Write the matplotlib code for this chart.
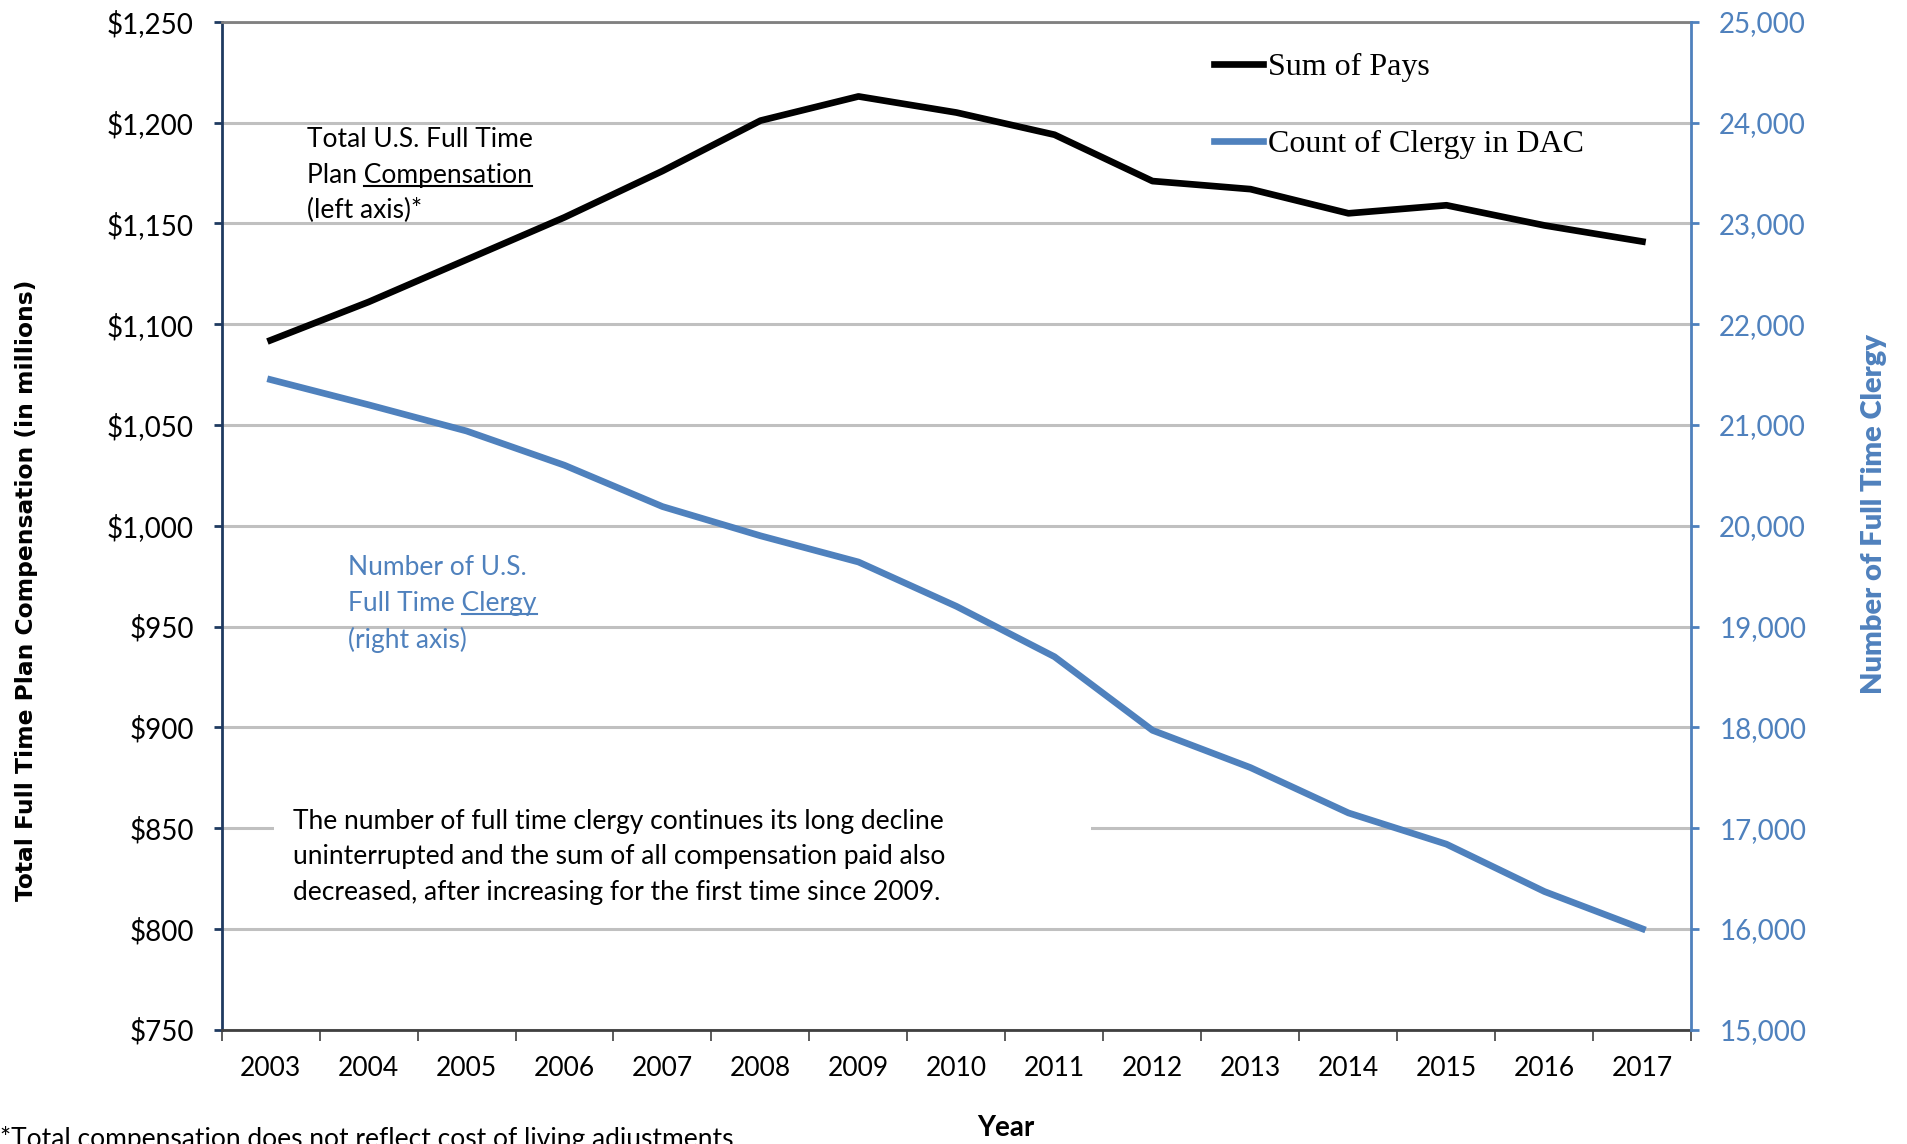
import matplotlib
matplotlib.use('Agg')
import matplotlib.pyplot as plt
import matplotlib.patches as mpatches
from matplotlib.lines import Line2D
from matplotlib.ticker import FuncFormatter

# data
years = list(range(2003, 2018))
sum_of_pays = [1092, 1111, 1132, 1153, 1176, 1201, 1213, 1205, 1194, 1171, 1167, 1155, 1159, 1149, 1141]
clergy_count = [21450, 21200, 20940, 20600, 20190, 19900, 19640, 19200, 18700, 17970, 17600, 17150, 16840, 16370, 16000]
left_ticks = list(range(750, 1251, 50))
right_ticks = list(range(15000, 25001, 1000))

blue = '#4F81BD'
navy = '#1F3A60'
plt.rcParams['font.family'] = ['Lato', 'DejaVu Sans']

fig = plt.figure(figsize=(19.08, 11.44), dpi=100)
ax = fig.add_axes([0.1161, 0.100, 0.8865 - 0.1161, 0.9809 - 0.100])
ax2 = ax.twinx()

ax.plot(years, sum_of_pays, color='black', lw=4.8, zorder=3, label='Sum of Pays')
ax2.plot(years, clergy_count, color=blue, lw=4.8, zorder=3, label='Count of Clergy in DAC')

ax.set_xlim(2002.5, 2017.5)
ax.set_ylim(750, 1250)
ax2.set_ylim(15000, 25000)
ax.set_yticks(left_ticks)
ax2.set_yticks(right_ticks)
ax.yaxis.set_major_formatter(FuncFormatter(lambda v, p: '${:,.0f}'.format(v)))
ax2.yaxis.set_major_formatter(FuncFormatter(lambda v, p: '{:,.0f}'.format(v)))

ax.set_xticks(years)
ax.set_xticks([y - 0.5 for y in years] + [years[-1] + 0.5], minor=True)
ax.tick_params(axis='x', which='major', length=0, pad=19, labelsize=19)
ax.tick_params(axis='x', which='minor', length=8, width=1.2, color='#404040')
ax.tick_params(axis='y', length=6, width=2, color=navy, pad=14, labelsize=20)
ax2.tick_params(axis='y', length=6, width=2, color=blue, labelcolor=blue, pad=14, labelsize=20)

ax.yaxis.grid(True, color='#c0c0c0', lw=2.2)
ax.set_axisbelow(True)

for s in ['top', 'bottom', 'left']:
    ax2.spines[s].set_visible(False)
ax.spines['right'].set_visible(False)
ax.spines['top'].set_color('#808080')
ax.spines['top'].set_linewidth(2)
ax.spines['bottom'].set_color('#404040')
ax.spines['bottom'].set_linewidth(2)
ax.spines['left'].set_color(navy)
ax.spines['left'].set_linewidth(2)
ax2.spines['right'].set_color(blue)
ax2.spines['right'].set_linewidth(2)

# white box behind the bottom note (hides the gridline)
ax.add_patch(mpatches.Rectangle((0.0356, 0.11), 0.556, 0.127, transform=ax.transAxes,
                                facecolor='white', edgecolor='none', zorder=1))

comp_lines = ['Total U.S. Full Time', 'Plan Compensation', '(left axis)*']
comp_y = [0.883, 0.848, 0.8128]
comp_texts = [ax.text(0.058, y, s, transform=ax.transAxes, fontsize=19, va='center', zorder=4)
              for s, y in zip(comp_lines, comp_y)]

cl_lines = ['Number of U.S.', 'Full Time Clergy', '(right axis)']
cl_y = [0.459, 0.4227, 0.3865]
cl_texts = [ax.text(0.0861, y, s, transform=ax.transAxes, fontsize=19, va='center', color=blue, zorder=4)
            for s, y in zip(cl_lines, cl_y)]

note_lines = ['The number of full time clergy continues its long decline',
              'uninterrupted and the sum of all compensation paid also',
              'decreased, after increasing for the first time since 2009.']
note_y = [0.2065, 0.1715, 0.1365]
for s, y in zip(note_lines, note_y):
    ax.text(0.0488, y, s, transform=ax.transAxes, fontsize=19, va='center', zorder=4)

handles = ax.get_lines() + ax2.get_lines()
ax2.legend(handles, [h.get_label() for h in handles], loc='center left',
           bbox_to_anchor=(0.675, 0.9165), frameon=False, borderpad=0, borderaxespad=0,
           handlelength=1.55, handletextpad=0.15, labelspacing=1.5,
           prop={'family': 'Liberation Serif', 'size': 23})

fig.text(0.014, 0.484, 'Total Full Time Plan Compensation (in millions)', rotation=90,
         fontsize=16.8, fontweight='bold', family='DejaVu Sans', ha='center', va='center')
fig.text(0.982, 0.5505, 'Number of Full Time Clergy', rotation=90, fontsize=21,
         fontweight='heavy', color=blue, ha='center', va='center')
fig.text(0.527, 0.0138, 'Year', fontsize=20, fontweight='bold', ha='center', va='center')
fig.text(0.0, 0.004, '*Total compensation does not reflect cost of living adjustments.',
         fontsize=19, ha='left', va='center')


def underline(text_obj, word, color):
    r = fig.canvas.get_renderer()
    bb = text_obj.get_window_extent(r)
    tmp = fig.text(0, 0, word, fontsize=text_obj.get_fontsize(), family=text_obj.get_fontfamily())
    w = tmp.get_window_extent(r).width
    tmp.remove()
    inv = fig.transFigure.inverted()
    (x0, y0), (x1, _) = inv.transform([(bb.x1 - w, bb.y0 + 2), (bb.x1, bb.y0 + 2)])
    fig.add_artist(Line2D([x0, x1], [y0, y0], color=color, lw=1.5))


fig.canvas.draw()
underline(comp_texts[1], 'Compensation', 'black')
underline(cl_texts[1], 'Clergy', blue)

fig.savefig('out.png', dpi=100)
